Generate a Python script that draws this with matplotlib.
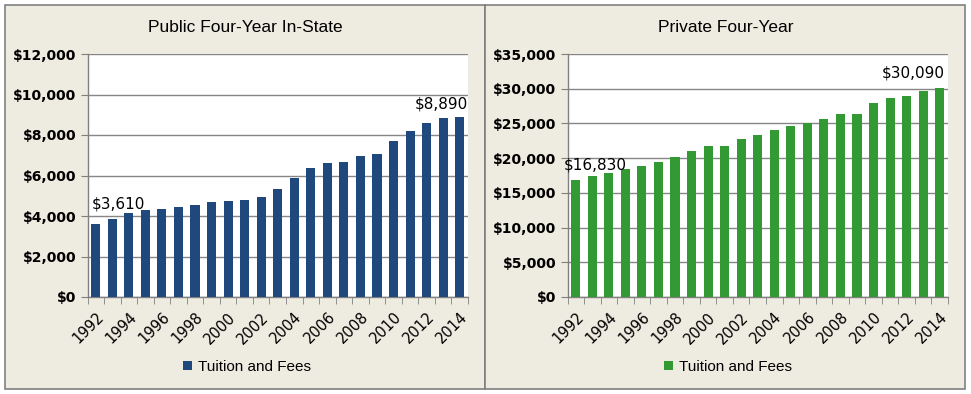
import numpy as np
import matplotlib.pyplot as plt
from matplotlib.patches import Rectangle, Patch

# Data
years = list(range(1992, 2015))
public_fees = [3610, 3870, 4140, 4280, 4330, 4440, 4540, 4680, 4730, 4770,
               4960, 5320, 5900, 6350, 6600, 6650, 6950, 7040, 7700, 8190,
               8600, 8830, 8890]
private_fees = [16830, 17380, 17820, 18500, 18800, 19400, 20100, 21100, 21800,
                21700, 22800, 23400, 24100, 24700, 25100, 25600, 26300, 26400,
                27900, 28700, 28900, 29600, 30090]
titles = ['Public Four-Year In-State', 'Private Four-Year']
legend_label = 'Tuition and Fees'

W, H = 971, 394
bg = '#EEEBE0'
edge = '#808080'
grid_c = '#868686'
sans = ['Liberation Sans', 'DejaVu Sans']

fig = plt.figure(figsize=(W / 100, H / 100), dpi=100)
fig.patch.set_facecolor('white')

# panel backgrounds with borders
for x0 in (5, 485):
    fig.patches.append(Rectangle((x0 / W, 1 - 389 / H), 480 / W, 384 / H,
                                 transform=fig.transFigure, facecolor=bg,
                                 edgecolor=edge, linewidth=1.2, zorder=-5))


def fmt(v):
    return '${:,.0f}'.format(v)


def panel(left, values, color, ymax, step, title, title_x, legend_x,
          first_lbl, last_lbl):
    ax = fig.add_axes([left / W, 1 - 297 / H, 380.5 / W, 243 / H])
    x = np.arange(len(years))
    ax.bar(x, values, width=0.55, color=color, zorder=3)
    ax.set_xlim(-0.5, len(years) - 0.5)
    ax.set_ylim(0, ymax)
    ax.set_facecolor('white')

    ax.set_yticks(np.arange(0, ymax + 1, step))
    ax.set_yticklabels([fmt(v) for v in np.arange(0, ymax + 1, step)],
                       fontsize=10, fontweight='bold')
    ax.yaxis.grid(True, color=grid_c, linewidth=1, zorder=1)
    ax.set_axisbelow(True)
    ax.tick_params(axis='y', length=5, color=edge, pad=3)

    ax.set_xticks(x[::2])
    ax.set_xticklabels([str(y) for y in years[::2]], rotation=45, ha='right',
                       rotation_mode='anchor', fontsize=10.5)
    ax.set_xticks(np.arange(-0.5, len(years)), minor=True)
    ax.tick_params(axis='x', which='major', length=0, pad=9)
    ax.tick_params(axis='x', which='minor', length=5, color=edge)

    for s in ('top', 'right'):
        ax.spines[s].set_visible(False)
    for s in ('left', 'bottom'):
        ax.spines[s].set_color(edge)
        ax.spines[s].set_linewidth(1)

    # data labels for first and last years
    fx, fy = first_lbl
    ax.text(fx, values[0] + fy, fmt(values[0]), ha='left', va='bottom',
            fontsize=11, zorder=5)
    lx, ly = last_lbl
    ax.text(lx, values[-1] + ly, fmt(values[-1]), ha='right', va='bottom',
            fontsize=11, zorder=5)

    fig.text(title_x / W, 1 - 27 / H, title, ha='center', va='center',
             fontsize=12.5, family=sans)
    ax.legend(handles=[Patch(facecolor=color, label=legend_label)],
              loc='center', bbox_to_anchor=(legend_x / W, 1 - 367 / H),
              bbox_transform=fig.transFigure, frameon=False,
              handlelength=0.6, handleheight=0.6, handletextpad=0.4,
              prop={'family': sans, 'size': 11})
    return ax


panel(87.5, public_fees, '#1F497D', 12000, 2000, titles[0], 245, 247,
      (-0.25, 600), (22.5, 250))
panel(567.5, private_fees, '#339933', 35000, 5000, titles[1], 726, 728,
      (-0.7, 1150), (22.3, 1050))

fig.savefig('out.png', dpi=100, facecolor=fig.get_facecolor())
